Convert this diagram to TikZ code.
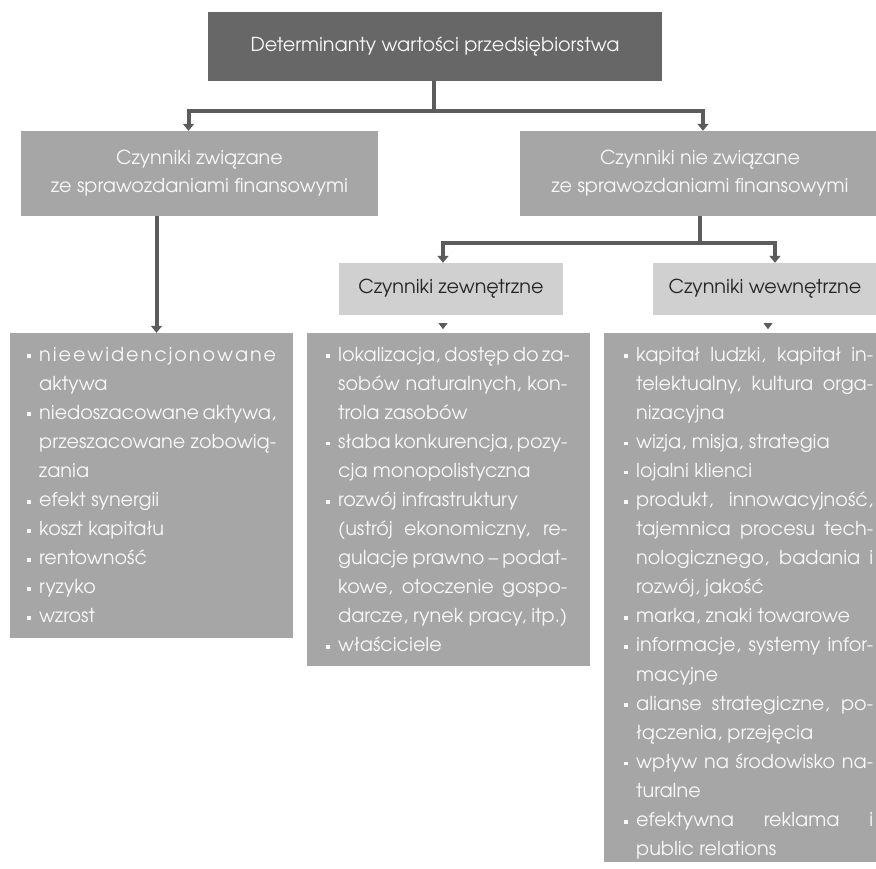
\documentclass[tikz,border=0pt]{standalone}
\usepackage{fontspec}
\setmainfont{texgyreadventor-regular.otf}
\usetikzlibrary{arrows.meta,calc}
\definecolor{topfill}{HTML}{676767}
\definecolor{midfill}{HTML}{A6A6A6}
\definecolor{subfill}{HTML}{D0D0D0}
\definecolor{connc}{HTML}{5C5C5C}
\definecolor{txtl}{HTML}{F8F8F8}
\definecolor{txtd}{HTML}{262626}
\newcommand{\bl}{\leavevmode\llap{\textcolor{txtl}{\rule[3pt]{3.8pt}{3.8pt}}\hspace{8pt}}}
\newcommand{\jl}[1]{\makebox[\linewidth][s]{#1}}
\tikzset{
  hbox/.style={rectangle, draw=none, inner sep=0pt, align=center},
  topbox/.style={hbox, fill=topfill, text=txtl, font=\fontsize{19.2}{22}\selectfont},
  midbox/.style={hbox, fill=midfill, text=txtl, font=\fontsize{19.2}{28}\selectfont},
  subbox/.style={hbox, fill=subfill, text=txtd, font=\fontsize{19.2}{22}\selectfont},
  listbox/.style={rectangle, draw=none, inner sep=0pt, fill=midfill},
  listtext/.style={anchor=base west, inner sep=0pt, text=txtl},
  conn/.style={draw=connc, line width=4pt},
  arr/.style={conn, -{Triangle[width=11pt,length=7pt]}},
}
\begin{document}
\begin{tikzpicture}[x=1pt,y=-1pt]
\useasboundingbox (0,0) rectangle (876,869);
\fill[white] (0,0) rectangle (876,869);

\node[topbox, minimum width=454pt, minimum height=69pt] (top) at (435,46.5) {Determinanty wartości przedsiębiorstwa};
\node[midbox, minimum width=357pt, minimum height=85pt] (lm) at (199.5,173.5) {Czynniki związane\\ze sprawozdaniami finansowymi};
\node[midbox, minimum width=360pt, minimum height=85pt] (rm) at (700,173.5) {Czynniki nie związane\\ze sprawozdaniami finansowymi};
\node[subbox, minimum width=224pt, minimum height=52pt] (ze) at (451,289) {Czynniki zewnętrzne};
\node[subbox, minimum width=224pt, minimum height=52pt] (we) at (765,289) {Czynniki wewnętrzne};

\node[listbox, minimum width=283pt, minimum height=305pt] (ll) at (151.5,485.5) {};
\node[listbox, minimum width=283pt, minimum height=333pt] (ml) at (448.5,499.5) {};
\node[listbox, minimum width=276pt, minimum height=529pt] (rl) at (742,597.5) {};

% connectors
\coordinate (j1) at (434,111);
\draw[conn] (top.south -| j1) -- (j1);
\draw[arr] (j1) -| ([xshift=-11pt]lm.north);
\draw[arr] (j1) -| ([xshift=3pt]rm.north);
\draw[arr] ([xshift=-43pt]lm.south) -- ([xshift=-43pt]lm.south |- ll.north);
\coordinate (j2) at (700,243);
\draw[conn] (rm.south) -- (j2);
\draw[arr] (j2) -| ([xshift=-8pt]ze.north);
\draw[arr] (j2) -| ([xshift=10pt]we.north);
\fill[connc] ($(ze.south)+(-12.5,8)$) -- ++(9,0) -- ++(-4.5,6) -- cycle;
\fill[connc] ($(we.south)+(-1.5,8)$) -- ++(9,0) -- ++(-4.5,6) -- cycle;

% list texts
\node[listtext] (lt) at (39,361) {\parbox[t]{237pt}{\fontsize{19.2}{29.1}\selectfont
\bl\jl{n\hfill i\hfill e\hfill e\hfill w\hfill i\hfill d\hfill e\hfill n\hfill c\hfill j\hfill o\hfill n\hfill o\hfill w\hfill a\hfill n\hfill e}\\
aktywa\\
\bl\jl{niedoszacowane aktywa,}\\
\jl{przeszacowane zobowią-}\\
zania\\
\bl efekt synergii\\
\bl koszt kapitału\\
\bl rentowność\\
\bl ryzyko\\
\bl wzrost}};

\node[listtext] (mt) at (338,361) {\parbox[t]{229pt}{\fontsize{19.2}{29.1}\selectfont
\bl\jl{lokalizacja, dostęp do za-}\\
\jl{sobów naturalnych, kon-}\\
trola zasobów\\
\bl\jl{słaba konkurencja, pozy-}\\
cja monopolistyczna\\
\bl rozwój infrastruktury\\
\jl{(ustrój ekonomiczny, re-}\\
\jl{gulacje prawno – podat-}\\
\jl{kowe, otoczenie gospo-}\\
darcze, rynek pracy, itp.)\\
\bl właściciele}};

\node[listtext] (rt) at (636,361) {\parbox[t]{237pt}{\fontsize{19.2}{29.1}\selectfont
\bl\jl{kapitał ludzki, kapitał in-}\\
\jl{telektualny, kultura orga-}\\
nizacyjna\\
\bl wizja, misja, strategia\\
\bl lojalni klienci\\
\bl\jl{produkt, innowacyjność,}\\
\jl{tajemnica procesu tech-}\\
\jl{nologicznego, badania i}\\
rozwój, jakość\\
\bl marka, znaki towarowe\\
\bl\jl{informacje, systemy infor-}\\
macyjne\\
\bl\jl{alianse strategiczne, po-}\\
łączenia, przejęcia\\
\bl\jl{wpływ na środowisko na-}\\
turalne\\
\bl\jl{efektywna reklama i}\\
public relations}};
\end{tikzpicture}
\end{document}
